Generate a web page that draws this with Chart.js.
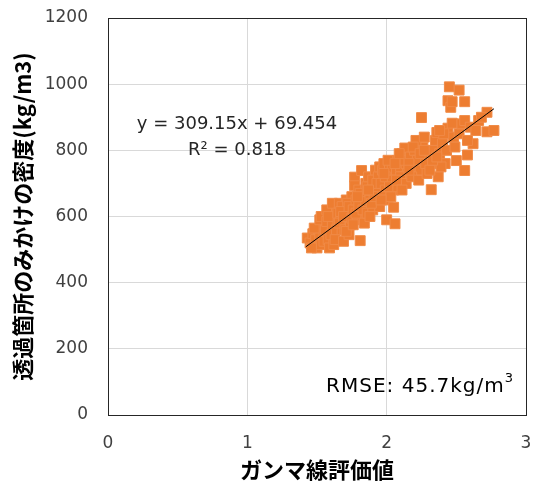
<!DOCTYPE html>
<html>
<head>
<meta charset="utf-8">
<script src="https://cdn.jsdelivr.net/npm/chart.js@4.4.1/dist/chart.umd.min.js"></script>
<style>
  html, body { margin: 0; padding: 0; background: #fff; }
  #wrap { width: 534px; height: 489px; position: relative; }
</style>
</head>
<body>
<div id="wrap"><canvas id="c"></canvas></div>
<script>
// ガンマ線評価値 (x) と 透過箇所のみかけの密度 kg/m3 (y)
const gammaValues = [
  1.43,1.45,1.47,1.49,1.50,1.51,1.52,1.53,1.54,1.55,1.46,1.48,1.52,1.55,1.53,
  1.56,1.57,1.58,1.59,1.60,1.61,1.62,1.63,1.64,1.65,1.57,1.60,1.62,1.64,1.58,1.61,1.63,1.65,
  1.66,1.67,1.68,1.69,1.70,1.71,1.72,1.73,1.74,1.75,1.66,1.68,1.70,1.72,1.74,1.67,1.69,1.71,1.73,1.75,
  1.76,1.77,1.77,1.78,1.79,1.80,1.81,1.82,1.82,1.83,1.84,1.85,1.76,1.78,1.80,1.81,1.83,1.84,1.85,1.79,1.86,1.86,
  1.87,1.88,1.89,1.90,1.91,1.92,1.93,1.94,1.95,1.88,1.90,1.92,1.94,1.89,1.91,1.93,1.95,1.87,
  1.96,1.97,1.98,1.99,2.00,2.00,2.01,2.02,2.03,2.04,2.05,2.06,2.05,1.97,1.99,2.01,2.03,2.04,1.96,2.02,
  2.07,2.08,2.09,2.10,2.11,2.12,2.13,2.14,2.15,2.08,2.10,2.12,2.14,2.07,2.11,
  2.17,2.19,2.20,2.22,2.24,2.25,2.26,2.28,2.30,2.18,2.21,2.23,2.27,2.29,2.16,
  2.32,2.33,2.35,2.36,2.38,2.40,2.42,2.44,2.44,2.45,2.46,2.47,2.47,2.48,2.50,2.34,2.37,2.41,2.43,2.39,2.31,2.49,
  2.52,2.52,2.54,2.56,2.56,2.56,2.58,2.60,2.62,2.64,2.72,2.72,2.77,2.58,2.66,2.68,
  2.19,2.24,2.33,2.38,2.06,2.16,1.98,2.09,2.27,2.36
];
const densityValues = [
  535,520,548,530,505,560,540,515,575,548,505,565,590,525,600,
  560,585,530,505,610,570,545,600,625,580,620,545,515,560,600,640,530,610,
  640,595,560,525,620,650,585,545,610,660,580,630,560,640,575,615,600,555,630,595,
  620,719,693,650,600,680,527,739,640,590,660,700,575,610,630,670,620,580,645,660,690,610,
  720,650,680,620,700,740,660,690,630,600,710,670,720,640,660,700,750,680,
  700,740,760,680,590,720,650,760,700,740,628,578,680,660,720,770,660,710,650,690,
  740,770,700,750,790,720,807,760,730,690,720,770,700,710,680,
  780,750,800,770,740,899,810,760,790,720,830,710,840,730,760,
  681,800,830,854,790,820,760,867,950,992,930,882,947,840,769,760,720,850,800,750,740,810,
  982,850,880,947,739,890,786,870,820,860,915,856,860,830,890,900,
  810,790,770,860,760,740,730,790,800,780
];

// 線形近似: y = 309.15x + 69.454 (R² = 0.818)
const trendSlope = 309.15;
const trendIntercept = 69.454;
const trendRange = [1.42, 2.77];

const xTicks = [0, 1, 2, 3];
const yTicks = [0, 200, 400, 600, 800, 1000, 1200];

const scatterPoints = gammaValues.map((g, i) => ({ x: g, y: densityValues[i] }));
const trendPoints = trendRange.map(x => ({ x: x, y: trendSlope * x + trendIntercept }));

const tickFont = { family: "'DejaVu Sans', sans-serif", size: 17 };
const titleFamily = "'Noto Sans CJK JP', sans-serif";

// 近似式・RMSE の注記とプロット枠
const annotatePlugin = {
  id: 'annotate',
  afterDraw(chart) {
    const { ctx, chartArea: a } = chart;
    ctx.save();
    ctx.strokeStyle = '#262626';
    ctx.lineWidth = 1;
    ctx.strokeRect(Math.round(a.left) + 0.5, Math.round(a.top) + 0.5,
                   Math.round(a.right - a.left), Math.round(a.bottom - a.top));

    ctx.fillStyle = '#262626';
    ctx.textAlign = 'center';
    ctx.textBaseline = 'middle';
    ctx.font = "18px 'DejaVu Sans', sans-serif";
    ctx.fillText('y = 309.15x + 69.454', 237, 124);
    ctx.fillText('R² = 0.818', 237, 150);

    ctx.fillStyle = '#000';
    ctx.textAlign = 'right';
    const sup = '3';
    ctx.font = "13px 'DejaVu Sans', sans-serif";
    const supW = ctx.measureText(sup).width;
    const rightX = 513;
    ctx.fillText(sup, rightX, 379);
    ctx.font = "20px 'DejaVu Sans', sans-serif";
    ctx.letterSpacing = '1px';
    ctx.fillText('RMSE: 45.7kg/m', rightX - supW, 387);
    ctx.restore();
  }
};

function noPadding(scale) {
  scale.paddingTop = 0;
  scale.paddingBottom = 0;
  scale.paddingLeft = 0;
  scale.paddingRight = 0;
}

new Chart(document.getElementById('c'), {
  type: 'scatter',
  data: {
    datasets: [
      {
        type: 'line',
        label: '線形 (近似)',
        data: trendPoints,
        borderColor: '#000',
        borderWidth: 1,
        pointRadius: 0,
        fill: false,
        order: 0
      },
      {
        label: '透過箇所のみかけの密度',
        data: scatterPoints,
        backgroundColor: '#ED7D31',
        borderColor: '#F08A46',
        borderWidth: 1,
        pointStyle: 'rect',
        pointRadius: 7,
        pointHoverRadius: 7,
        order: 1
      }
    ]
  },
  plugins: [annotatePlugin],
  options: {
    responsive: true,
    maintainAspectRatio: false,
    animation: false,
    layout: { padding: { top: 18, right: 6, bottom: 0, left: 0 } },
    plugins: { legend: { display: false }, tooltip: { enabled: false } },
    scales: {
      x: {
        type: 'linear',
        min: 0, max: 3,
        afterBuildTicks(scale) { scale.ticks = xTicks.map(v => ({ value: v })); },
        afterFit(scale) { scale.height = 74; noPadding(scale); },
        grid: { color: '#d9d9d9', drawTicks: false },
        border: { display: false },
        ticks: { font: tickFont, color: '#404040', padding: 18, maxRotation: 0,
                 callback: v => String(v) },
        title: {
          display: true,
          text: 'ガンマ線評価値',
          font: { family: titleFamily, size: 22, weight: 'bold' },
          color: '#000',
          padding: { top: 0, bottom: 6 }
        }
      },
      y: {
        type: 'linear',
        min: 0, max: 1200,
        afterBuildTicks(scale) { scale.ticks = yTicks.map(v => ({ value: v })); },
        afterFit(scale) { scale.width = 108; noPadding(scale); },
        grid: { color: '#d9d9d9', drawTicks: false },
        border: { display: false },
        ticks: { font: tickFont, color: '#404040', padding: 20,
                 callback: v => String(v) },
        title: {
          display: true,
          text: '透過箇所のみかけの密度(kg/m3)',
          font: { family: titleFamily, size: 22, weight: 'bold' },
          color: '#000',
          padding: { top: 9, bottom: 0 }
        }
      }
    }
  }
});
</script>
</body>
</html>
